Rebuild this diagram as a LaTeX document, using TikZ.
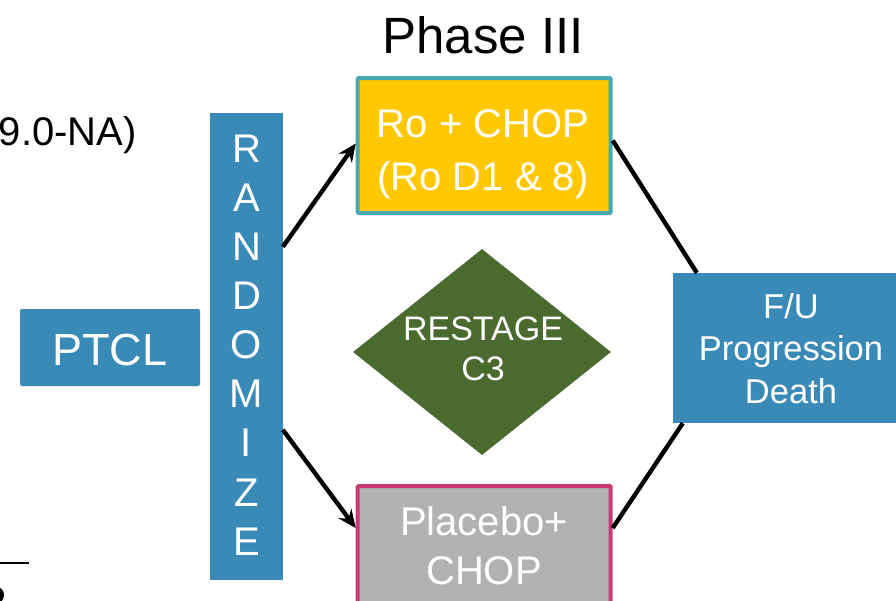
\documentclass[tikz,border=0pt]{standalone}
\usepackage{fontspec}
\setmainfont{Liberation Sans}
\usetikzlibrary{arrows.meta,shapes.geometric}
\definecolor{boxblue}{HTML}{3A8AB8}
\definecolor{gold}{HTML}{FFC800}
\definecolor{tealbd}{HTML}{4AA8B3}
\definecolor{pinkbd}{HTML}{C93A75}
\definecolor{greyfill}{HTML}{B2B2B2}
\definecolor{olivefill}{HTML}{4A6A30}
\tikzset{
  lbl/.style={inner sep=0pt, anchor=base},
  wtxt/.style={lbl, text=white},
  bluebox/.style={fill=boxblue, draw=none, inner sep=0pt},
  armbox/.style={line width=4pt, inner sep=0pt, minimum width=253pt, minimum height=135pt, rounded corners=1pt},
  conn/.style={line width=4.4pt, black},
  arr/.style={conn, -{Stealth[length=18pt,width=16pt,inset=6pt]}},
  fA/.style={font=\fontsize{40}{48}\selectfont},
  fB/.style={font=\fontsize{34.5}{41}\selectfont},
  fC/.style={font=\fontsize{34}{40}\selectfont},
}
\begin{document}
\begin{tikzpicture}[x=1pt,y=-1pt]
\useasboundingbox (0,0) rectangle (896,600);
\clip (0,0) rectangle (896,600);

% title
\node[lbl, font=\fontsize{51}{60}\selectfont] (title) at (483,53) {Phase III};

% partial text at left
\node[inner sep=0pt, anchor=base east, fA] (leftx) at (137,145) {9.0-NA)};

% partial line and mark at bottom left
\coordinate (ln1) at (0,563);
\coordinate (ln2) at (29,563);
\draw[line width=2pt] (ln1) -- (ln2);
\coordinate (blob) at (-3,595);
\fill (blob) ellipse [x radius=7pt, y radius=8pt];

% PTCL
\node[bluebox, minimum width=180pt, minimum height=77pt, rounded corners=2pt] (ptcl) at (110,347.5) {};
\node[wtxt, font=\fontsize{45}{54}\selectfont] (ptclt) at (110,365) {PTCL};

% RANDOMIZE bar
\node[bluebox, minimum width=72.7pt, minimum height=467.5pt] (rand) at (246.3,346.3) {};
\foreach \l [count=\i from 0] in {R,A,N,D,O,M,I,Z,E}
  \node[wtxt, fA] (r\i) at (246.5,162+49.15*\i) {\l};

% arms
\node[armbox, fill=gold, draw=tealbd] (yl) at (484.2,145.5) {};
\node[wtxt, fA] (yl1) at (483,137) {Ro + CHOP};
\node[wtxt, fA] (yl2) at (483,190.5) {(Ro D1 \& 8)};

\node[armbox, fill=greyfill, draw=pinkbd] (pl) at (484.2,553.5) {};
\node[wtxt, fA] (pl1) at (484,535) {Placebo+};
\node[wtxt, fA] (pl2) at (484,584) {CHOP};

% restage diamond
\node[diamond, fill=olivefill, inner sep=0pt, minimum width=258pt, minimum height=206pt] (rs) at (482,352) {};
\node[wtxt, fC] (rs1) at (483,340) {RESTAGE};
\node[wtxt, fC] (rs2) at (483,380) {C3};

% follow-up
\node[bluebox, minimum width=240pt, minimum height=150pt] (fu) at (793,348) {};
\node[wtxt, fB] (fu1) at (791,318.5) {F/U};
\node[wtxt, fB] (fu2) at (791,360) {Progression};
\node[wtxt, fB] (fu3) at (791,403) {Death};

% connectors
\draw[arr] ([yshift=99.5pt]rand.east) -- ([yshift=2pt]yl.west);
\draw[arr] ([yshift=-83.5pt]rand.east) -- ([yshift=25.5pt]pl.west);
\draw[conn] ([yshift=5pt]yl.east) -- ([xshift=24pt]fu.north west);
\draw[conn] ([xshift=10pt]fu.south west) -- ([yshift=25.5pt]pl.east);
\end{tikzpicture}
\end{document}
